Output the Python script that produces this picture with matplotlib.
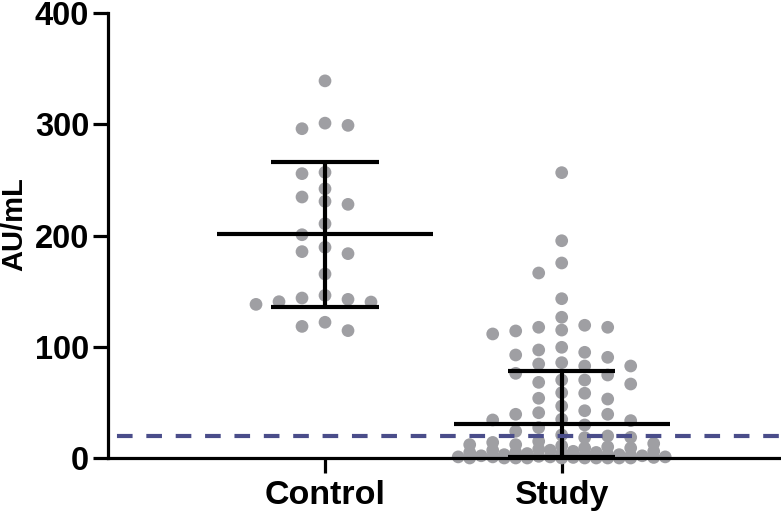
import numpy as np
import matplotlib
matplotlib.use('Agg')
import matplotlib.pyplot as plt

plt.rcParams['font.family'] = ['Liberation Sans', 'DejaVu Sans']
plt.rcParams['font.weight'] = 'bold'

groups = ['Control', 'Study']

control = [339, 301, 299, 296, 256.8, 255.6, 242, 234.6, 230.7, 228, 210.6, 200.7,
           189.4, 185.5, 183.7, 165.4, 146.2, 143.8, 142.6, 140.5, 140.2, 138.1,
           122, 118.3, 114.5]

study = [256.5, 195.3, 175.3, 166.3, 143.2, 126.5, 119.3, 117.5, 117.5, 115, 114.2, 111.5,
         99.5, 97.1, 95, 92.6, 90.5, 85.7, 84.5, 82.7, 82.7, 76.1, 74.6, 70.1, 70.1, 68,
         66.5, 58.7, 58.2, 53.7, 53, 46.7, 42.5, 40.7, 39.3, 39.3, 34.8, 34.2, 33.6,
         29.7, 27.3, 24, 20.7, 19.8, 18.6, 18.3, 15,
         14, 13, 12, 12, 11, 10, 9, 9, 8, 7, 7, 6, 6, 5, 5, 5, 4, 4, 3, 3, 3, 2.5,
         2, 2, 2, 1.5, 1, 1, 1, 1, 0.5, 0.5, 0, 0, 0, 0, 0, 0, 0, 0, 0, 0]

# centre line and whiskers (Control: mean +/- SD, Study: median + IQR)
centre = [201, 31]
lower = [135.5, 0.5]
upper = [266.5, 78]

cutoff = 20

fig = plt.figure(figsize=(7.81, 5.16), dpi=100)
ax = fig.add_axes([0.1383, 0.1124, 0.8617, 0.8624])
ax.set_xlim(0.0832, 2.9265)
ax.set_ylim(0, 400)


def swarm(values, xc, step=11.5, wx=20.0, wy=12.5, kmax=9):
    # greedy beeswarm in pixel space (box-shaped exclusion), x in data units
    vals = np.asarray(values, dtype=float)
    order = np.argsort(-vals, kind='stable')
    ypix = ax.transData.transform(np.column_stack([np.full(len(vals), xc), vals]))[:, 1]
    xpix0 = ax.transData.transform((xc, 0))[0]
    placed = []
    offs = np.zeros(len(vals))
    for n, i in enumerate(order):
        sgn = 1 if n % 2 == 0 else -1
        cands = [0]
        for k in range(1, kmax + 1):
            cands += [sgn * k * step, -sgn * k * step]
        best, best_s = None, -1
        for c in cands:
            if placed:
                p = np.array(placed)
                s = np.maximum(np.abs(p[:, 0] - c) / wx, np.abs(p[:, 1] - ypix[i]) / wy).min()
            else:
                s = np.inf
            if s >= 1:
                best = c
                break
            if s > best_s + 0.02:
                best, best_s = c, s
        offs[i] = best
        placed.append((best, ypix[i]))
    xs = ax.transData.inverted().transform(np.column_stack([xpix0 + offs, ypix]))[:, 0]
    return xs


for g, vals in enumerate([control, study]):
    xs = swarm(vals, g + 1)
    ax.scatter(xs, vals, s=84, color='#9f9fa3', edgecolors='none', zorder=2, clip_on=False)

pos = np.arange(1, len(groups) + 1)
ax.hlines(centre, pos - 0.456, pos + 0.456, color='black', lw=3, zorder=3)
ax.vlines(pos, lower, upper, color='black', lw=3, zorder=3)
ax.hlines(upper, pos - 0.227, pos + 0.227, color='black', lw=3, zorder=3)
ax.hlines(lower, pos - 0.227, pos + 0.227, color='black', lw=3, zorder=3)

ax.axhline(cutoff, color='#4a4d8a', lw=3, linestyle=(4.9, (3.75, 3.3)), zorder=4)

ax.spines['top'].set_visible(False)
ax.spines['right'].set_visible(False)
ax.spines['left'].set_linewidth(2.3)
ax.spines['bottom'].set_linewidth(2.3)

ax.set_yticks([0, 100, 200, 300, 400])
ax.set_xticks(pos)
ax.set_xticklabels(groups)
ax.tick_params(axis='y', length=10.5, width=2.3, labelsize=23.5, pad=3)
ax.tick_params(axis='x', length=10.5, width=2.3, labelsize=24.5, pad=5)
for lab in ax.get_xticklabels() + ax.get_yticklabels():
    lab.set_fontweight('bold')

ax.set_ylabel('AU/mL', fontsize=21, fontweight='bold')
ax.yaxis.set_label_coords(-0.118, 0.526)

fig.savefig('out.png', dpi=100)
